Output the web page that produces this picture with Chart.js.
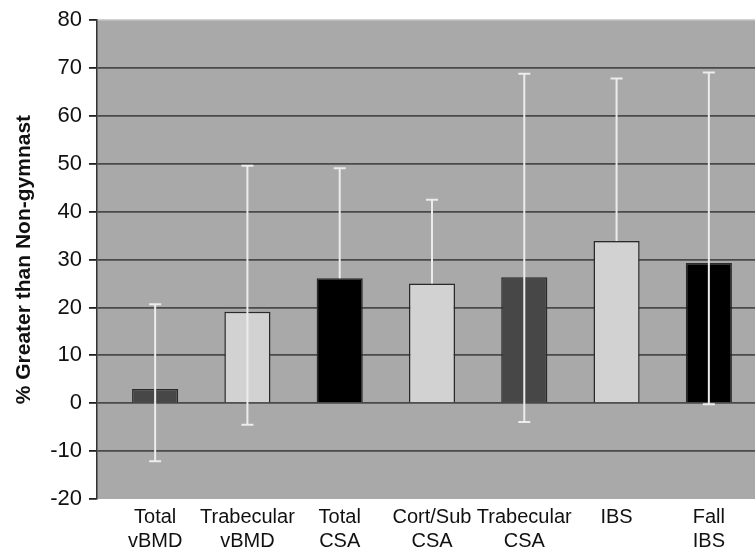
<!DOCTYPE html>
<html>
<head>
<meta charset="utf-8">
<script src="https://cdn.jsdelivr.net/npm/chart.js@4"></script>
<style>
  html, body { margin: 0; padding: 0; background: #fff; }
  #wrap { width: 755px; height: 553px; }
</style>
</head>
<body>
<div id="wrap"><canvas id="chart"></canvas></div>
<script>
const categories = [
    ['Total', 'vBMD'],
    ['Trabecular', 'vBMD'],
    ['Total', 'CSA'],
    ['Cort/Sub', 'CSA'],
    ['Trabecular', 'CSA'],
    ['IBS'],
    ['Fall', 'IBS']
];
const values = [3, 19.1, 26.1, 25, 26.3, 33.9, 29.3];
const errUpper = [20.7, 49.6, 49.1, 42.5, 68.8, 67.8, 69.1];
const errLower = [-12.1, -4.5, null, null, -3.9, null, -0.2];
const barColors = ['#474747', '#d2d2d2', '#000000', '#d2d2d2', '#474747', '#d2d2d2', '#000000'];
const yTicks = [-20, -10, 0, 10, 20, 30, 40, 50, 60, 70, 80];

const plotBg = {
    id: 'plotBg',
    beforeDraw(chart) {
        const { ctx, chartArea: a } = chart;
        ctx.save();
        ctx.fillStyle = '#a9a9a9';
        ctx.fillRect(a.left, a.top, a.right - a.left, a.bottom - a.top);
        ctx.fillStyle = '#c8c8c8';
        ctx.fillRect(a.left, a.top - 1, a.right - a.left, 1);
        ctx.restore();
    }
};

const errorBars = {
    id: 'errorBars',
    afterDatasetsDraw(chart) {
        const { ctx } = chart;
        const xs = chart.scales.x;
        const ys = chart.scales.y;
        ctx.save();
        ctx.strokeStyle = '#ececec';
        ctx.lineWidth = 2;
        values.forEach((v, i) => {
            const x = xs.getPixelForValue(i);
            const top = ys.getPixelForValue(errUpper[i]);
            const bot = ys.getPixelForValue(errLower[i] !== null ? errLower[i] : v);
            ctx.beginPath();
            ctx.moveTo(x, top);
            ctx.lineTo(x, bot);
            ctx.moveTo(x - 6, top);
            ctx.lineTo(x + 6, top);
            if (errLower[i] !== null) {
                ctx.moveTo(x - 6, bot);
                ctx.lineTo(x + 6, bot);
            }
            ctx.stroke();
        });
        ctx.restore();
    }
};

new Chart(document.getElementById('chart'), {
    type: 'bar',
    data: {
        datasets: [{
            data: values.map((v, i) => ({ x: i, y: v })),
            backgroundColor: barColors,
            borderColor: '#2a2a2a',
            borderWidth: 1.5,
            barPercentage: 0.5,
            categoryPercentage: 1
        }]
    },
    options: {
        responsive: true,
        maintainAspectRatio: false,
        animation: false,
        layout: { padding: { top: 8, right: 0, left: 0, bottom: 0 } },
        plugins: {
            legend: { display: false },
            tooltip: { enabled: false }
        },
        scales: {
            x: {
                type: 'linear',
                offset: false,
                min: -0.63,
                max: 6.5,
                afterBuildTicks: scale => {
                    scale.ticks = categories.map((_, i) => ({ value: i }));
                },
                afterFit: scale => {
                    scale.height = 54;
                },
                ticks: {
                    autoSkip: false,
                    maxRotation: 0,
                    color: '#111',
                    padding: 6,
                    font: { family: 'Liberation Sans, Arial', size: 20 },
                    callback: v => categories[v]
                },
                grid: { display: false, drawTicks: false, tickLength: 0 },
                border: { display: false }
            },
            y: {
                min: -20,
                max: 80,
                afterBuildTicks: scale => {
                    scale.ticks = yTicks.map(v => ({ value: v }));
                },
                ticks: {
                    color: '#111',
                    padding: 7,
                    font: { family: 'Liberation Sans, Arial', size: 22 }
                },
                grid: {
                    color: ctx => (ctx.tick && (ctx.tick.value === -20 || ctx.tick.value === 80)) ? 'rgba(0,0,0,0)' : '#4a4a4a',
                    lineWidth: 1.8,
                    tickColor: '#222',
                    tickLength: 8
                },
                border: { display: true, color: '#333', width: 1.5 },
                title: {
                    display: true,
                    text: '% Greater than Non-gymnast',
                    color: '#111',
                    padding: { top: 12, bottom: 6 },
                    font: { family: 'Liberation Sans, Arial', size: 21, weight: 'bold' }
                }
            }
        }
    },
    plugins: [plotBg, errorBars]
});
</script>
</body>
</html>
